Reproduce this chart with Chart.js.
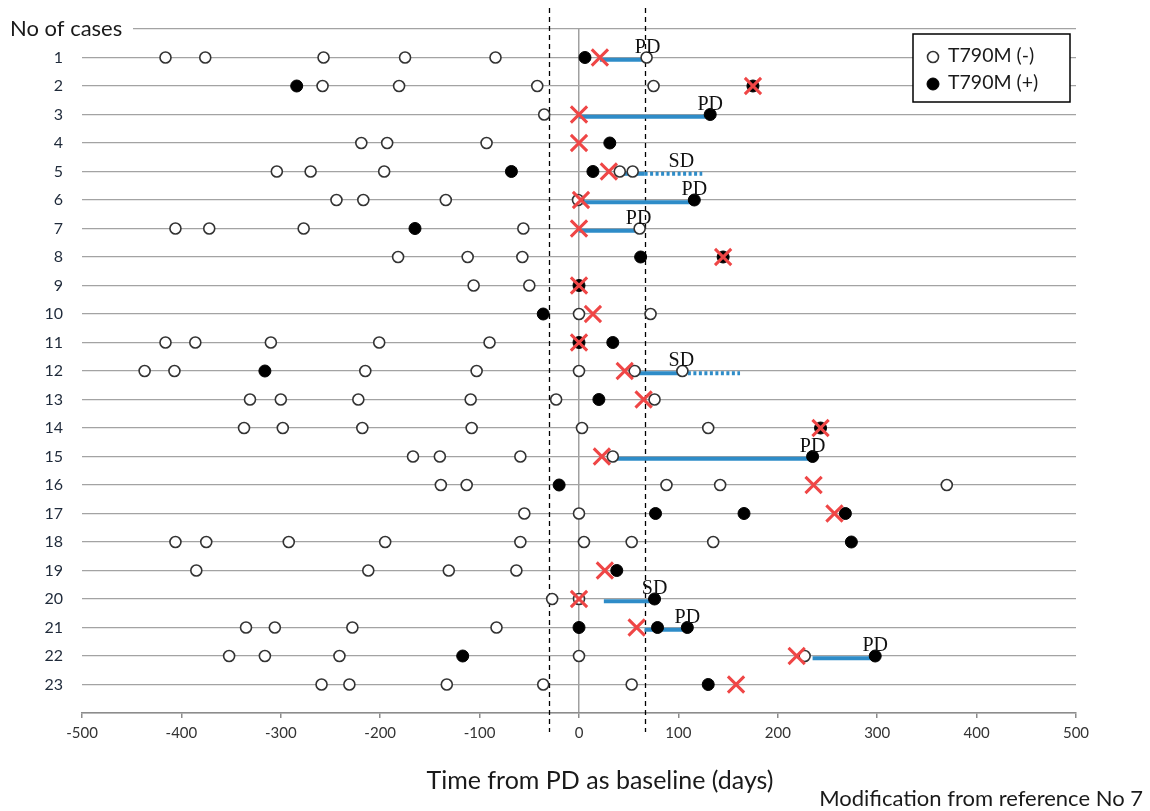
<!DOCTYPE html>
<html>
<head>
<meta charset="utf-8">
<script src="https://cdn.jsdelivr.net/npm/chart.js@4.4.1/dist/chart.umd.min.js"></script>
<style>
  html, body { margin: 0; padding: 0; background: #fff; }
</style>
</head>
<body>
<canvas id="caseChart" width="1150" height="811"></canvas>
<script>
// --- data (days from PD baseline), one entry per case ---
const caseLabels = ['1', '2', '3', '4', '5', '6', '7', '8', '9', '10', '11', '12',
    '13', '14', '15', '16', '17', '18', '19', '20', '21', '22', '23'];

// T790M (-) samples
const negDays = [
    [-416, -376, -257, -175, -84, 68],
    [-258, -181, -42, 75],
    [-35],
    [-219, -193, -93],
    [-304, -270, -196, 41, 54],
    [-244, -217, -134, -1],
    [-406, -372, -277, -56, 61],
    [-182, -112, -57],
    [-106, -50],
    [0, 72],
    [-416, -386, -310, -201, -90],
    [-437, -407, -215, -103, 0, 56, 104],
    [-331, -300, -222, -109, -23, 76],
    [-337, -298, -218, -108, 3, 130],
    [-167, -140, -59, 34],
    [-139, -113, 88, 142, 370],
    [-55, 0],
    [-406, -375, -292, -195, -59, 5, 53, 135],
    [-385, -212, -131, -63],
    [-27, 0],
    [-335, -306, -228, -83],
    [-352, -316, -241, 0, 227],
    [-259, -231, -133, -36, 53]
];

// T790M (+) samples
const posDays = [
    [6], [-284, 175], [132], [31], [-68, 14], [116], [-165], [62, 145],
    [0], [-36], [0, 34], [-316], [20], [243], [235], [-20],
    [77, 166, 268], [274], [38], [76], [0, 79, 109], [-117, 298], [130]
];

// start of treatment (red cross), null = none
const crossDays = [21, 175, 0, 0, 30, 2, 0, 145, 0, 14, 0, 46, 65, 243, 23, 236,
    257, null, 26, 0, 58, 219, 158];

// treatment periods [case, start, end]
const solidBars = [[1, 21, 68], [3, 0, 132], [5, 41, 66], [6, 2, 116], [7, 0, 61],
    [12, 56, 104], [15, 34, 235], [20, 25, 76], [21, 66, 109], [22, 235, 298]];
const dottedBars = [[5, 66, 124], [12, 104, 162]];

// response text [case, day, label]
const responseLabels = [[1, 69, 'PD'], [3, 132, 'PD'], [5, 103, 'SD'], [6, 116, 'PD'],
    [7, 60, 'PD'], [12, 103, 'SD'], [15, 235, 'PD'], [20, 76, 'SD'], [21, 109, 'PD'],
    [22, 298, 'PD']];

const windowDays = [-30, 66];
const xTicks = [-500, -400, -300, -200, -100, 0, 100, 200, 300, 400, 500];

const BLUE = '#2e8cc8';
const RED = '#ef4646';

const toPoints = rows => rows.flatMap((days, i) => days.map(d => ({ x: d, y: i + 1 })));

const barSets = (bars, dashed) => bars.map(([c, s, e]) => ({
    label: 'period',
    data: [{ x: s, y: c + 0.08 }, { x: e, y: c + 0.08 }],
    showLine: true,
    borderColor: BLUE,
    borderWidth: 4,
    borderDash: dashed ? [3, 2.5] : [],
    pointRadius: 0,
    order: 5
}));

const annotations = {
    id: 'annotations',
    beforeDatasetsDraw(chart) {
        const { ctx, chartArea, scales: { x } } = chart;
        ctx.save();
        ctx.strokeStyle = '#000';
        ctx.lineWidth = 1.3;
        ctx.setLineDash([5, 4]);
        windowDays.forEach(d => {
            const px = Math.round(x.getPixelForValue(d)) + 0.5;
            ctx.beginPath();
            ctx.moveTo(px, 8);
            ctx.lineTo(px, chartArea.bottom + 19);
            ctx.stroke();
        });
        ctx.restore();
    },
    afterDatasetsDraw(chart) {
        const { ctx, chartArea, scales: { x, y } } = chart;
        ctx.save();

        // PD / SD labels
        ctx.font = '20px "Liberation Serif"';
        ctx.fillStyle = '#111';
        ctx.textAlign = 'center';
        ctx.textBaseline = 'alphabetic';
        responseLabels.forEach(([c, d, t]) => {
            ctx.fillText(t, x.getPixelForValue(d), y.getPixelForValue(c) - 5);
        });

        // y axis heading
        const topY = y.getPixelForValue(0);
        ctx.fillStyle = '#fff';
        ctx.fillRect(chartArea.left - 2, topY - 12, 135 - chartArea.left, 24);
        ctx.fillStyle = '#1a1a1a';
        ctx.textAlign = 'left';
        ctx.textBaseline = 'middle';
        ctx.font = '22px Lato';
        ctx.fillText('No of cases', 10, topY);

        // x axis title and note
        ctx.textBaseline = 'alphabetic';
        ctx.textAlign = 'center';
        ctx.font = '25px Lato';
        ctx.fillText('Time from PD as baseline (days)', 600, 789);
        ctx.textAlign = 'right';
        ctx.font = '22px Lato';
        ctx.fillText('Modification from reference No 7', 1143, 806);

        // legend box
        const bx = 913, by = 34, bw = 157, bh = 68;
        ctx.fillStyle = '#fff';
        ctx.fillRect(bx, by, bw, bh);
        ctx.strokeStyle = '#000';
        ctx.lineWidth = 1.5;
        ctx.strokeRect(bx, by, bw, bh);
        const items = chart.data.datasets.slice(0, 2);
        items.forEach((ds, i) => {
            const cy = by + 23 + i * 27;
            ctx.beginPath();
            ctx.arc(bx + 20, cy, ds.pointRadius, 0, Math.PI * 2);
            ctx.fillStyle = ds.backgroundColor;
            ctx.fill();
            ctx.lineWidth = ds.borderWidth;
            ctx.strokeStyle = ds.borderColor;
            ctx.stroke();
            ctx.fillStyle = '#1a1a1a';
            ctx.textAlign = 'left';
            ctx.textBaseline = 'middle';
            ctx.font = '19.5px Lato';
            ctx.fillText(ds.label, bx + 35, cy - 1);
        });
        ctx.restore();
    }
};

new Chart(document.getElementById('caseChart').getContext('2d'), {
    type: 'scatter',
    data: {
        datasets: [
            {
                label: 'T790M (-)',
                data: toPoints(negDays),
                pointRadius: 5.5,
                backgroundColor: '#fff',
                borderColor: '#333',
                borderWidth: 1.6,
                order: 2
            },
            {
                label: 'T790M (+)',
                data: toPoints(posDays),
                pointRadius: 6,
                backgroundColor: '#000',
                borderColor: '#000',
                borderWidth: 1,
                order: 1
            },
            {
                label: 'start',
                data: crossDays.map((d, i) => d === null ? null : { x: d, y: i + 1 }).filter(Boolean),
                pointStyle: 'crossRot',
                pointRadius: 11.5,
                borderColor: RED,
                borderWidth: 3,
                order: 0
            },
            ...barSets(solidBars, false),
            ...barSets(dottedBars, true)
        ]
    },
    options: {
        responsive: false,
        animation: false,
        devicePixelRatio: 1,
        layout: { padding: { top: 29, right: 74, left: 0, bottom: 0 } },
        plugins: {
            legend: { display: false },
            tooltip: { enabled: false }
        },
        scales: {
            x: {
                type: 'linear',
                min: -500,
                max: 500,
                afterFit: scale => { scale.height = 98; },
                afterBuildTicks: scale => { scale.ticks = xTicks.map(v => ({ value: v })); },
                border: { display: true, color: '#8c8c8c', width: 1.5 },
                grid: {
                    color: c => c.tick && c.tick.value === 0 ? '#a0a0a0' : 'rgba(0,0,0,0)',
                    lineWidth: 1.5,
                    tickColor: '#8c8c8c',
                    tickLength: 5,
                    drawTicks: true
                },
                ticks: {
                    color: '#333',
                    font: { family: 'Lato', size: 15 },
                    padding: 6,
                    maxRotation: 0
                }
            },
            y: {
                type: 'linear',
                min: 0,
                max: 24,
                reverse: true,
                afterFit: scale => { scale.width = 82; },
                afterBuildTicks: scale => {
                    scale.ticks = Array.from({ length: 25 }, (_, i) => ({ value: i }));
                },
                border: { display: false },
                grid: {
                    color: '#a3a3a3',
                    lineWidth: 1.3,
                    drawTicks: false
                },
                ticks: {
                    color: '#1f2a3a',
                    font: { family: 'Lato', size: 16 },
                    padding: 19,
                    autoSkip: false,
                    callback: v => caseLabels[v - 1] || ''
                }
            }
        }
    },
    plugins: [annotations]
});
</script>
</body>
</html>
